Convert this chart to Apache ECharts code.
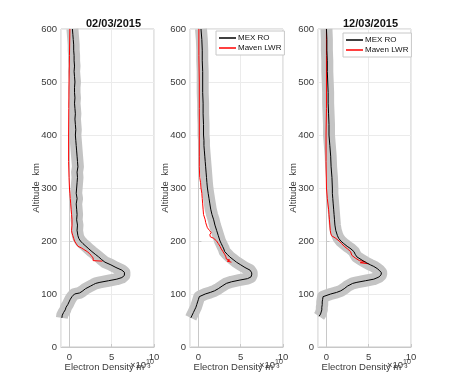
<!DOCTYPE html>
<html><head><meta charset="utf-8">
<script src="https://cdn.jsdelivr.net/npm/echarts@6/dist/echarts.min.js"></script>
<style>html,body{margin:0;padding:0;background:#fff}#c{width:452px;height:389px}</style>
</head><body><div id="c"></div>
<script>
// Panel titles
const titles = ['02/03/2015', '', '12/03/2015'];
const seriesNames = ['MEX RO', 'Maven LWR'];
const yTicks = [0, 100, 200, 300, 400, 500, 600];

// Panel 1 — MEX RO
const alt1 = [55,60,65,70,75,80,85,90,95,100,102,105,110,115,118,120,122,125,128,131,135,138,141,145,150,155,160,165,170,175,180,185,190,195,200,205,210,220,230,240,250,260,270,280,290,300,310,320,330,340,350,360,370,380,390,400,410,420,430,440,450,460,470,480,490,500,510,520,530,540,550,560,570,580,590,600];
const mex1 = [-0.9,-0.85,-0.7,-0.5,-0.4,-0.2,-0.05,0.1,0.3,0.6,1.2,1.5,1.9,2.5,2.85,3.1,3.6,4.6,5.6,6.2,6.5,6.6,6.5,6.2,5.5,4.9,4.2,3.8,3.45,3.05,2.66,2.3,1.95,1.6,1.3,1.1,1.0,0.9,0.95,0.85,0.9,0.85,0.8,0.9,0.8,0.85,0.9,0.95,0.9,1.0,0.95,0.9,0.85,0.8,0.75,0.7,0.75,0.7,0.65,0.7,0.65,0.6,0.65,0.6,0.6,0.65,0.6,0.55,0.6,0.55,0.55,0.5,0.5,0.45,0.4,0.35];
// Panel 1 — Maven LWR
const altR1 = [162,163,168,172,176,180,184,187,190,193,196,200,205,210,215,220,230,240,250,260,270,280,290,300,320,350,400,450,500,550,600];
const red1 = [3.9,2.8,2.8,2.6,2.4,2.1,1.7,1.4,1.0,0.9,0.75,0.6,0.5,0.4,0.3,0.25,0.3,0.3,0.25,0.2,0.15,0.1,0.05,0.0,-0.05,-0.1,-0.1,-0.08,-0.05,0.0,0.05];

// Panel 2 — MEX RO
const alt2 = [55,60,65,70,75,80,85,90,95,98,100,103,106,110,115,120,123,126,129,132,136,140,145,150,155,160,165,170,175,180,185,190,195,200,210,220,230,240,250,260,270,280,290,300,310,320,330,340,350,360,370,380,390,400,420,440,460,480,500,520,540,560,580,600];
const mex2 = [-0.9,-0.75,-0.6,-0.45,-0.3,-0.2,-0.1,0.0,0.1,0.3,0.8,1.4,1.9,2.35,2.8,3.3,3.9,4.8,5.8,6.2,6.3,6.3,6.1,5.5,5.0,4.5,4.1,3.7,3.4,3.1,3.0,2.85,2.7,2.55,2.35,2.15,1.95,1.8,1.6,1.45,1.35,1.25,1.15,1.06,1.0,0.95,0.9,0.85,0.8,0.75,0.7,0.65,0.65,0.6,0.6,0.55,0.55,0.5,0.5,0.5,0.45,0.45,0.4,0.3];
// Panel 2 — Maven LWR
const altR2 = [160,162,164,166,170,175,180,185,190,195,200,205,208,212,216,220,225,230,235,240,250,260,270,280,290,300,310,320,340,360,400,450,500,550,600];
const red2 = [3.9,3.4,3.7,3.3,3.25,3.1,2.9,2.7,2.55,2.35,2.15,1.8,1.4,1.35,1.5,1.3,1.06,0.95,0.85,0.8,0.6,0.55,0.5,0.45,0.4,0.3,0.25,0.15,0.1,0.1,0.1,0.1,0.1,0.05,0.05];

// Panel 3 — MEX RO
const alt3 = [58,62,65,70,75,80,85,90,95,98,100,103,106,110,115,118,120,122,125,128,132,136,140,144,148,152,155,160,165,170,175,180,185,190,195,200,205,210,220,230,240,250,260,270,280,290,300,320,340,360,380,400,420,440,460,480,500,520,540,560,580,600];
const mex3 = [-0.87,-0.7,-0.6,-0.55,-0.55,-0.5,-0.5,-0.45,-0.4,-0.3,0.5,1.2,1.7,2.1,2.5,2.7,3.1,3.6,4.6,5.6,6.2,6.45,6.5,6.3,6.0,5.6,5.2,4.6,4.1,3.6,3.4,3.25,2.9,2.45,2.05,1.7,1.45,1.3,1.1,1.0,0.95,0.9,0.85,0.8,0.75,0.7,0.7,0.65,0.55,0.5,0.4,0.3,0.3,0.25,0.2,0.2,0.15,0.1,0.1,0.05,0.05,0.0];
// Panel 3 — Maven LWR
const altR3 = [157,159,161,163,165,168,170,173,176,180,185,190,195,200,205,210,215,220,230,240,250,260,280,300,350,400,450,500,550,600];
const red3 = [5.0,4.0,4.6,3.9,3.8,3.4,3.5,3.0,3.1,2.85,2.5,2.1,1.8,1.5,1.1,0.6,0.5,0.45,0.4,0.35,0.3,0.25,0.1,0.0,-0.05,-0.05,0.0,0.0,0.0,0.0];

const panels = [
  {alt: alt1, mex: mex1, altR: altR1, red: red1},
  {alt: alt2, mex: mex2, altR: altR2, red: red2},
  {alt: alt3, mex: mex3, altR: altR3, red: red3}
];
const lefts = [61, 190, 318];
const W = 93, TOP = 29, H = 318;
const frame = '#c8c8c8', gridc = '#ebebeb', txt = '#3a3a3a';
const FF = 'Liberation Sans';
const pairs = (xs, ys) => xs.map((v, i) => [v, ys[i]]);

const grid = [], xAxis = [], yAxis = [], series = [], title = [], graphic = [];
panels.forEach((p, i) => {
  grid.push({left: lefts[i], top: TOP, width: W, height: H, show: true, borderColor: frame, borderWidth: 1, backgroundColor: '#fff'});
  xAxis.push({type: 'value', gridIndex: i, min: -1, max: 10, splitNumber: 2,
    axisLine: {show: true, lineStyle: {color: frame}},
    axisTick: {show: true, inside: true, length: 3, lineStyle: {color: frame}},
    axisLabel: {color: txt, fontSize: 9.5, fontFamily: FF, margin: 5, showMinLabel: false},
    splitLine: {show: true, lineStyle: {color: gridc}},
    name: 'Electron Density m\u207B\u00B3', nameLocation: 'middle', nameGap: 15, nameMoveOverlap: false,
    nameTextStyle: {color: txt, fontSize: 9.5, fontFamily: FF}});
  yAxis.push({type: 'value', gridIndex: i, min: 0, max: 600, interval: 100,
    axisLine: {show: true, lineStyle: {color: frame}},
    axisTick: {show: true, inside: true, length: 3, lineStyle: {color: frame}},
    axisLabel: {color: txt, fontSize: 9.5, fontFamily: FF, margin: 4},
    splitLine: {show: true, lineStyle: {color: gridc}},
    name: 'Altitude  km', nameLocation: 'middle', nameGap: 20, nameRotate: 90, nameMoveOverlap: false,
    nameTextStyle: {color: txt, fontSize: 9.5, fontFamily: FF}});
  series.push({type: 'line', name: 'band' + i, xAxisIndex: i, yAxisIndex: i, data: pairs(p.mex, p.alt),
    showSymbol: false, silent: true, animation: false, z: 1,
    lineStyle: {color: '#c4c4c4', width: 12, cap: 'butt', join: 'round'}});
  series.push({type: 'line', name: 'Maven LWR', xAxisIndex: i, yAxisIndex: i, data: pairs(p.red, p.altR),
    showSymbol: false, animation: false, z: 2, color: '#ff0000',
    lineStyle: {color: '#ff0000', width: 1}});
  series.push({type: 'line', name: 'MEX RO', xAxisIndex: i, yAxisIndex: i, data: pairs(p.mex, p.alt),
    showSymbol: false, animation: false, z: 3, color: '#000',
    lineStyle: {color: '#000', width: 1}});
  if (titles[i]) title.push({text: titles[i], left: lefts[i] + W / 2 + 1, top: 13, textAlign: 'center',
    textStyle: {fontSize: 11, fontWeight: 'bold', color: '#111', fontFamily: FF}});
  graphic.push({type: 'text', left: lefts[i] + W - 24, top: 359, z: 10,
    style: {text: '{b|\u00D710}{s|10}', rich: {b: {fontSize: 9.5, fill: txt, fontFamily: FF}, s: {fontSize: 7, fill: txt, verticalAlign: 'top', padding: [0, 0, 5, 0], fontFamily: FF}}}});
});

const legendBase = {orient: 'vertical', data: [{name: 'MEX RO', icon: 'rect'}, {name: 'Maven LWR', icon: 'rect'}],
  itemWidth: 17, itemHeight: 1.5, itemGap: 0, padding: [2, 3, 2, 3],
  backgroundColor: '#fff', borderColor: '#c8c8c8', borderWidth: 1, borderRadius: 0,
  textStyle: {fontSize: 8, lineHeight: 10, color: '#111', fontFamily: FF, padding: [0, 0, 0, -3]}, selectedMode: false};
const legend = [
  Object.assign({}, legendBase, {left: 216, top: 31}),
  Object.assign({}, legendBase, {left: 343, top: 33})
];

const chart = echarts.init(document.getElementById('c'), null, {renderer: 'canvas'});
chart.setOption({animation: false, backgroundColor: '#fff', title, grid, xAxis, yAxis, series, legend, graphic});
</script></body></html>
